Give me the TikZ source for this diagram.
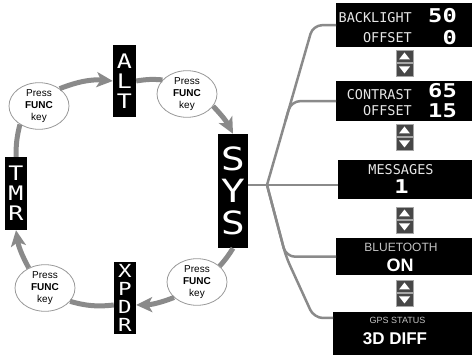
\documentclass[tikz,border=0pt]{standalone}
\usepackage{fontspec}
\setmainfont{Liberation Sans}
\newfontfamily\lcdfont[FakeStretch=1.25]{DejaVu Sans Mono}
\newfontfamily\lcdlabel{DejaVu Sans Mono}
\usetikzlibrary{arrows.meta, calc, shapes.geometric}

\definecolor{ringgray}{HTML}{8A8A8A}
\definecolor{keygray}{HTML}{474747}
\definecolor{lcdwhite}{HTML}{E6E6E6}
\definecolor{lcdgray}{HTML}{C4C4C4}

\begin{document}
\begin{tikzpicture}[x=1pt, y=-1pt,
  modebox/.style={fill=black, text=white, inner sep=0pt, align=center,
    font=\lcdfont\fontsize{#1}{#1}\selectfont},
  press/.style={ellipse, draw=gray!80, line width=0.8pt, fill=white,
    minimum width=60pt, minimum height=46pt, inner sep=0pt, align=center,
    font=\fontsize{10}{12}\selectfont},
  ring/.style={draw=ringgray, line width=5pt},
  ringarrow/.style={ring, -{Stealth[length=16pt, width=15pt, inset=4pt]}},
  screen/.style={fill=black, inner sep=0pt, minimum width=150pt, anchor=north west},
  lbl/.style={font=\lcdlabel\fontsize{13.5}{13.5}\selectfont, text=lcdwhite, inner sep=0pt},
  num/.style={font=\lcdfont\bfseries\fontsize{19}{19}\selectfont, text=white, inner sep=0pt},
  branch/.style={draw=ringgray, line width=2.5pt, rounded corners=9pt},
]
\useasboundingbox (0,0) rectangle (472,355);

% mode boxes
\node[modebox=20, minimum width=23pt, minimum height=72pt] (alt) at (124.5,81) {A\\L\\T};
\node[modebox=32, minimum width=30pt, minimum height=114pt] (sys) at (233,191) {S\\Y\\S};
\node[modebox=20, minimum width=22pt, minimum height=73pt] (tmr) at (16,193.5) {T\\M\\R};
\node[modebox=18, minimum width=22pt, minimum height=72pt] (xpdr) at (125,298) {X\\P\\D\\R};

% key presses
\node[press] (tl) at (39,106) {Press\\\textbf{FUNC}\\key};
\node[press] (tr) at (187,94) {Press\\\textbf{FUNC}\\key};
\node[press] (br) at (197,282) {Press\\\textbf{FUNC}\\key};
\node[press] (bl) at (45,288) {Press\\\textbf{FUNC}\\key};

% the mode ring
\draw[ring] (tmr.north) to[bend left=7] (tl.-136);
\draw[ringarrow] (tl.40) to[bend left=13] (alt.west);
\draw[ring] (alt.east) to[bend left=7] (tr.150);
\draw[ringarrow] (tr.-25) to[bend left=8] (sys.north);
\draw[ring] (sys.south) to[bend left=5] (br.35);
\draw[ringarrow] (br.214) to[bend left=10] ([yshift=-7pt]xpdr.east);
\draw[ring] ([yshift=-7pt]xpdr.west) to[bend left=11] (bl.-28);
\draw[ringarrow] (bl.129) to[bend left=10] (tmr.south);

% system pages
\begin{scope}
\clip (0,0) rectangle (472,355);
\node[screen, minimum height=44pt] (backlight) at (336,3) {};
\node[screen, minimum height=40pt] (contrast) at (336,81) {};
\node[screen, minimum height=39pt] (messages) at (338,160) {};
\node[screen, minimum height=37pt] (bluetooth) at (336,238) {};
\node[screen, minimum height=50pt] (gpsstatus) at (333,312) {};
\end{scope}

\node[lbl, anchor=east] at (412,18) {BACKLIGHT};
\node[lbl, anchor=east] at (412,38) {OFFSET};
\node[num, anchor=east] at (457,15.5) {50};
\node[num, anchor=east] at (457,37.5) {0};

\node[lbl, anchor=east] at (412,95) {CONTRAST};
\node[lbl, anchor=east] at (412,110.5) {OFFSET};
\node[num, anchor=east] at (457,91) {65};
\node[num, anchor=east] at (457,110.5) {15};

\node[lbl] at (401,170) {MESSAGES};
\node[num] at (401.5,187) {1};

\node[font=\fontsize{12}{12}\selectfont, text=lcdgray, inner sep=0pt] at (401,247) {BLUETOOTH};
\node[font=\bfseries\fontsize{18}{18}\selectfont, text=white, inner sep=0pt] at (400,265) {ON};

\node[font=\fontsize{9}{9}\selectfont, text=lcdgray, inner sep=0pt] at (397.5,320) {GPS STATUS};
\node[font=\bfseries\fontsize{17}{17}\selectfont, text=white, inner sep=0pt] at (395,339) {3D DIFF};

% up/down keys between pages
\foreach \ky in {63,137,220,293} {
  \filldraw[fill=keygray, draw=gray!70, line width=0.6pt] (396,\ky-13) rectangle (413,\ky-0.7);
  \filldraw[fill=keygray, draw=gray!70, line width=0.6pt] (396,\ky+0.7) rectangle (413,\ky+13);
  \fill[white] (399,\ky-3.5) -- (410,\ky-3.5) -- (404.5,\ky-10.5) -- cycle;
  \fill[white] (399,\ky+3.5) -- (410,\ky+3.5) -- (404.5,\ky+10.5) -- cycle;
}

% branches from SYS
\coordinate (hub) at (267,185);
\coordinate (topc) at ($(backlight.west)+(-23,0)$);
\coordinate (lowc) at ($(bluetooth.west)+(-50,0)$);
\coordinate (gpsb) at ($(gpsstatus.north west)+(0,6)$);
\coordinate (gpsc) at ($(gpsb)+(-19,0)$);
\draw[branch] (sys.east |- hub) -- (hub -| messages.west);
\draw[branch] (hub) -- (topc) -- (backlight.west);
\draw[branch] ($(hub)!0.4!(topc)$) -- ($(hub)!0.525!(topc)$) -- (contrast.west);
\draw[branch] (hub) -- (lowc) -- (gpsc) -- (gpsb);
\draw[branch] (hub) -- (lowc) -- (bluetooth.west);
\end{tikzpicture}
\end{document}
